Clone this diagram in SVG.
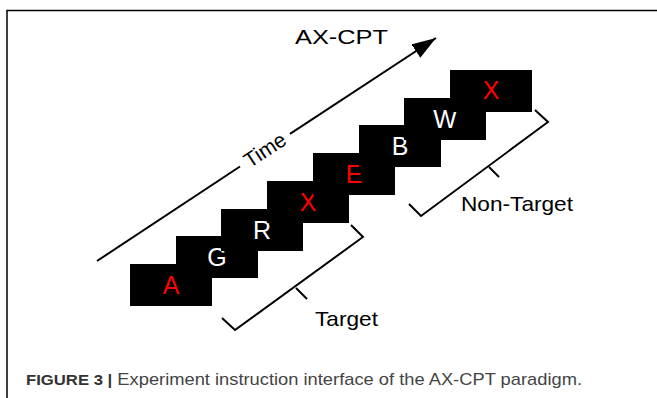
<svg xmlns="http://www.w3.org/2000/svg" width="657" height="398" viewBox="0 0 657 398">
  <style>
    .box { fill: #000; }
    .lt { font-family: "Liberation Sans", Arial, sans-serif; font-size: 25px; text-anchor: middle; }
    .red { fill: #ff0000; }
    .wh { fill: #ffffff; }
    .lbl { font-family: "Liberation Sans", Arial, sans-serif; font-size: 21px; fill: #000; }
    .ln { stroke: #000; stroke-width: 2; fill: none; stroke-linecap: butt; stroke-linejoin: miter; }
    .cap { font-family: "Liberation Sans", Arial, sans-serif; font-size: 17px; fill: #444; }
  </style>
  <defs>
    <marker id="ah" markerUnits="userSpaceOnUse" markerWidth="26" markerHeight="18" refX="24" refY="8" orient="auto">
      <path d="M0,0 L24,8 L0,16 Z" fill="#000"/>
    </marker>
  </defs>
  <rect width="657" height="398" fill="#fff"/>
  <!-- frame -->
  <path d="M7,398 V10.5 H657" fill="none" stroke="#000" stroke-width="1.5"/>

  <text id="title" class="lbl" x="295" y="44" textLength="93" lengthAdjust="spacingAndGlyphs">AX-CPT</text>

  <g id="connectors">
    <line class="ln" x1="97" y1="261" x2="240" y2="166.5"/>
    <line class="ln" x1="290" y1="133.8" x2="436" y2="38" marker-end="url(#ah)"/>
    <!-- Target bracket -->
    <path class="ln" d="M222,318 L235,330 L363,237 L351,225"/>
    <line class="ln" x1="296" y1="288" x2="307" y2="299"/>
    <!-- Non-Target bracket -->
    <path class="ln" d="M409,204 L421,216 L548,122 L535,110"/>
    <line class="ln" x1="489" y1="167" x2="499" y2="177"/>
  </g>
  <text id="time" class="lbl" font-size="22" text-anchor="middle" transform="translate(265,150) rotate(-33.38)" y="7">Time</text>

  <g id="n0"><rect class="box" x="130" y="264" width="82" height="42"/><text class="lt red" x="171" y="294">A</text></g>
  <g id="n1"><rect class="box" x="176" y="236" width="82" height="42"/><text class="lt wh" x="217" y="266">G</text></g>
  <g id="n2"><rect class="box" x="221" y="209" width="82" height="42"/><text class="lt wh" x="262" y="239">R</text></g>
  <g id="n3"><rect class="box" x="267" y="181" width="82" height="42"/><text class="lt red" x="308" y="211">X</text></g>
  <g id="n4"><rect class="box" x="313" y="153" width="82" height="42"/><text class="lt red" x="354" y="183">E</text></g>
  <g id="n5"><rect class="box" x="359" y="125" width="82" height="42"/><text class="lt wh" x="400" y="155">B</text></g>
  <g id="n6"><rect class="box" x="404" y="98" width="82" height="42"/><text class="lt wh" x="445" y="128">W</text></g>
  <g id="n7"><rect class="box" x="450" y="70" width="82" height="42"/><text class="lt red" x="491" y="99">X</text></g>

  <text id="target" class="lbl" x="315" y="326" textLength="63" lengthAdjust="spacingAndGlyphs">Target</text>
  <text id="nontarget" class="lbl" x="461" y="211" textLength="112" lengthAdjust="spacingAndGlyphs">Non-Target</text>

  <text id="caption" class="cap" x="26" y="385" textLength="556" lengthAdjust="spacingAndGlyphs"><tspan font-size="15.5" font-weight="bold" fill="#333">FIGURE 3 |</tspan> Experiment instruction interface of the AX-CPT paradigm.</text>
</svg>
